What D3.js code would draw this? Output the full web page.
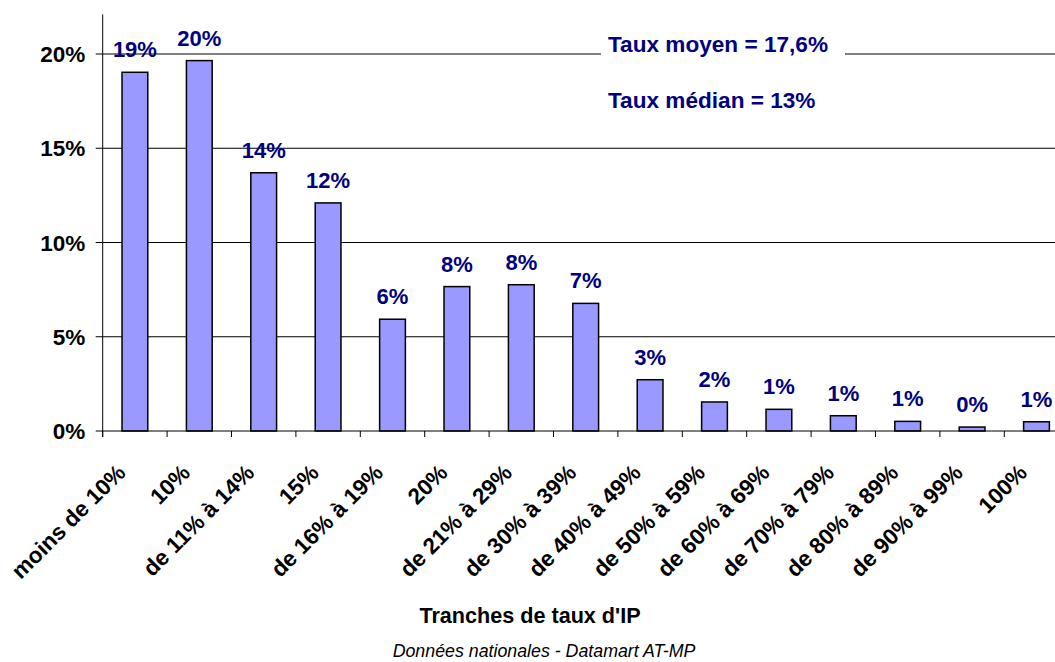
<!DOCTYPE html>
<html>
<head>
<meta charset="utf-8">
<script src="https://cdn.jsdelivr.net/npm/d3@7.9.0/dist/d3.min.js"></script>
<style>
  body { margin: 0; background: #fff; }
  svg { display: block; font-family: "Liberation Sans", Arial, sans-serif; }
</style>
</head>
<body>
<svg id="chart" width="1055" height="662"></svg>
<script>
// ---- data ----
const categories = [
  "moins de 10%", "10%", "de 11% à 14%", "15%", "de 16% à 19%", "20%",
  "de 21% à 29%", "de 30% à 39%", "de 40% à 49%", "de 50% à 59%",
  "de 60% à 69%", "de 70% à 79%", "de 80% à 89%", "de 90% à 99%", "100%"
];
const values = [19.03, 19.65, 13.7, 12.1, 5.93, 7.66, 7.76, 6.77, 2.72, 1.54, 1.15, 0.81, 0.51, 0.21, 0.49];
const valueLabels = ["19%", "20%", "14%", "12%", "6%", "8%", "8%", "7%", "3%", "2%", "1%", "1%", "1%", "0%", "1%"];
const yTicks = [0, 5, 10, 15, 20];
const notes = ["Taux moyen = 17,6%", "Taux médian = 13%"];

const navy = "#000080";
const svg = d3.select("#chart");

// ---- scales ----
const x = d3.scaleBand()
  .domain(categories)
  .range([102.7, 1068.7])
  .paddingInner(0.6)
  .paddingOuter(0.3);

const y = d3.scaleLinear().domain([0, 20]).range([431, 54]);
const yTop = 22.1; // l'axe monte un peu au-dessus de 20%

// ---- grille ----
svg.append("g")
  .selectAll("line")
  .data(yTicks.filter(d => d > 0))
  .join("line")
  .attr("x1", x.range()[0])
  .attr("x2", x.range()[1])
  .attr("y1", d => y(d))
  .attr("y2", d => y(d))
  .attr("stroke", "#000")
  .attr("stroke-width", 1);

// ---- notes (fond blanc qui coupe la ligne de 20%) ----
svg.append("rect")
  .attr("x", 601).attr("y", 28)
  .attr("width", 244).attr("height", 32)
  .attr("fill", "#fff");

svg.append("g")
  .selectAll("text")
  .data(notes)
  .join("text")
  .attr("x", 608)
  .attr("y", (d, i) => 51.7 + i * 56.6)
  .attr("fill", navy)
  .attr("font-weight", "bold")
  .attr("font-size", 22.6)
  .text(d => d);

// ---- barres ----
svg.append("g")
  .selectAll("rect")
  .data(values)
  .join("rect")
  .attr("x", (d, i) => x(categories[i]))
  .attr("y", d => y(d))
  .attr("width", x.bandwidth())
  .attr("height", d => y(0) - y(d))
  .attr("fill", "#9999ff")
  .attr("stroke", "#000")
  .attr("stroke-width", 1.5);

// ---- étiquettes de valeurs ----
svg.append("g")
  .selectAll("text")
  .data(values)
  .join("text")
  .attr("x", (d, i) => x(categories[i]) + x.bandwidth() / 2)
  .attr("y", d => y(d) - 15)
  .attr("text-anchor", "middle")
  .attr("fill", navy)
  .attr("font-weight", "bold")
  .attr("font-size", 22)
  .text((d, i) => valueLabels[i]);

// ---- axe Y ----
const x0 = x.range()[0];
svg.append("line")
  .attr("x1", x0).attr("x2", x0)
  .attr("y1", y(yTop)).attr("y2", y(0) + 6)
  .attr("stroke", "#000");

const yAxis = svg.append("g");
yAxis.selectAll("line")
  .data(yTicks)
  .join("line")
  .attr("x1", x0 - 7).attr("x2", x0)
  .attr("y1", d => y(d)).attr("y2", d => y(d))
  .attr("stroke", "#000");
yAxis.selectAll("text")
  .data(yTicks)
  .join("text")
  .attr("x", x0 - 17.5)
  .attr("y", d => y(d))
  .attr("dy", "0.36em")
  .attr("text-anchor", "end")
  .attr("font-weight", "bold")
  .attr("font-size", 22.5)
  .text(d => d + "%");

// ---- axe X ----
svg.append("line")
  .attr("x1", x.range()[0]).attr("x2", x.range()[1])
  .attr("y1", y(0)).attr("y2", y(0))
  .attr("stroke", "#000");

const step = x.step();
svg.append("g")
  .selectAll("line")
  .data(d3.range(categories.length + 1))
  .join("line")
  .attr("x1", i => x0 + i * step)
  .attr("x2", i => x0 + i * step)
  .attr("y1", y(0)).attr("y2", y(0) + 6)
  .attr("stroke", "#000");

svg.append("g")
  .selectAll("text")
  .data(categories)
  .join("text")
  .attr("transform", d => `translate(${x(d) + x.bandwidth() / 2 - 8},474) rotate(-45)`)
  .attr("text-anchor", "end")
  .attr("font-weight", "bold")
  .attr("font-size", 22.5)
  .text(d => d);

// ---- titres ----
svg.append("text")
  .attr("x", 530).attr("y", 623)
  .attr("text-anchor", "middle")
  .attr("font-weight", "bold")
  .attr("font-size", 21.6)
  .text("Tranches de taux d'IP");

svg.append("text")
  .attr("x", 544).attr("y", 656.5)
  .attr("text-anchor", "middle")
  .attr("font-style", "italic")
  .attr("font-size", 17.8)
  .text("Données nationales - Datamart AT-MP");
</script>
</body>
</html>
